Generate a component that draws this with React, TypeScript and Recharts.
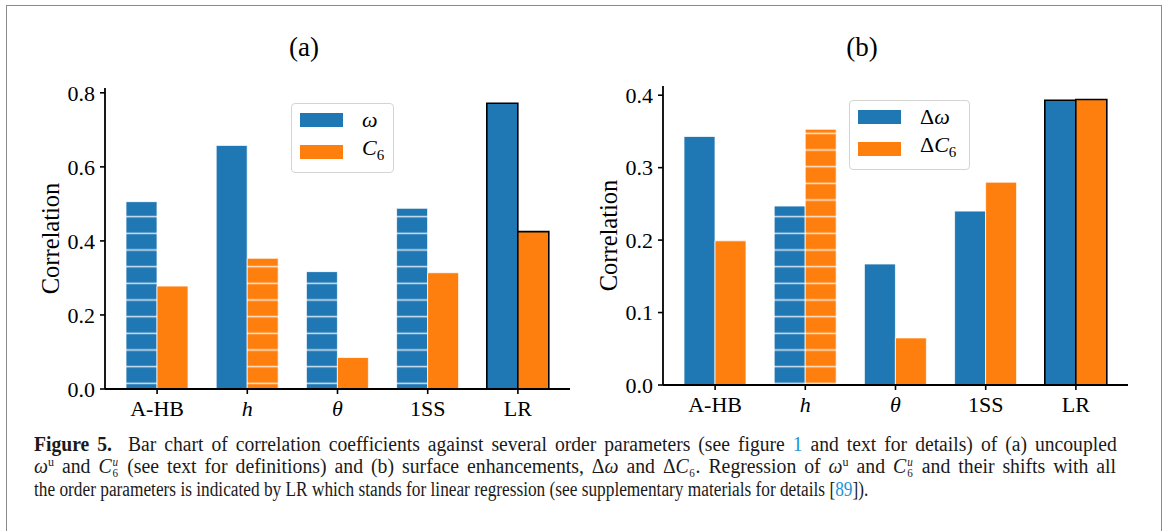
import React, { useLayoutEffect, useRef, useState } from 'react';
import { BarChart, Bar, XAxis, YAxis, Cell, Legend } from 'recharts';

// ---------- data ----------
const categories = ['A-HB', 'h', 'θ', '1SS', 'LR'];
const omegaA = [0.506, 0.658, 0.317, 0.488, 0.772];
const c6A = [0.278, 0.353, 0.085, 0.314, 0.425];
const dOmegaB = [0.343, 0.247, 0.167, 0.240, 0.393];
const dC6B = [0.199, 0.353, 0.065, 0.280, 0.394];
const ticksA = [0, 0.2, 0.4, 0.6, 0.8];
const ticksB = [0, 0.1, 0.2, 0.3, 0.4];
const titleA = '(a)';
const titleB = '(b)';
const yLabel = 'Correlation';

// ---------- styles ----------
const SERIF = '"Liberation Serif", "DejaVu Serif", serif';
const BLUE = '#1f77b4';
const ORANGE = '#ff7f0e';
const hatchedA = { s1: ['A-HB', 'θ', '1SS'], s2: ['h'] };
const hatchedB = { s1: ['h'], s2: ['h'] };
const outlined = ['LR'];

function HatchDefs() {
  const defs: [string, string][] = [
    ['hatchBlue', BLUE],
    ['hatchOrange', ORANGE],
  ];
  return (
    <svg width={0} height={0} style={{ position: 'absolute', left: 0, top: 0 }}>
      <defs>
        {defs.map(([id, c]) => (
          <pattern key={id} id={id} patternUnits="userSpaceOnUse" x={0} y={-8.3333} width={40} height={16.6667}>
            <rect x={0} y={0} width={40} height={16.6667} fill={c} />
            <line x1={0} x2={40} y1={8.3333} y2={8.3333} stroke="#ffffff" strokeOpacity={0.82} strokeWidth={1.3} />
          </pattern>
        ))}
      </defs>
    </svg>
  );
}

const XTick = (props: any) => {
  const { x, y, payload } = props;
  const v = payload.value;
  const italic = v === 'h' || v === 'θ';
  return (
    <text
      x={x}
      y={y}
      dy="0.71em"
      textAnchor="middle"
      fill="#000"
      fontFamily="Liberation Serif"
      fontSize={22}
      style={{ fontFamily: SERIF, fontSize: 22, fontStyle: italic ? 'italic' : 'normal' }}
    >
      {v}
    </text>
  );
};

const YTick = (props: any) => {
  const { x, y, payload } = props;
  return (
    <text
      x={x}
      y={y}
      dy="0.355em"
      textAnchor="end"
      fill="#000"
      fontFamily="Liberation Serif"
      fontSize={22}
      style={{ fontFamily: SERIF, fontSize: 22 }}
    >
      {Number(payload.value).toFixed(1)}
    </text>
  );
};

type Item = { color: string; label: React.ReactNode };

const LegendBox = ({ items, width }: { items: Item[]; width: number }) => (
  <div
    style={{
      width,
      boxSizing: 'border-box',
      border: '1px solid #d4d4d4',
      borderRadius: 4,
      background: 'rgba(255,255,255,0.85)',
      padding: '0px 0px 4px 8px',
      fontFamily: SERIF,
      fontSize: 22,
      color: '#000',
    }}
  >
    {items.map((it, i) => (
      <div key={i} style={{ display: 'flex', alignItems: 'center', height: 32 }}>
        <div style={{ width: 43, height: 14, background: it.color, marginRight: 19, flex: 'none' }} />
        <span style={{ lineHeight: '32px', whiteSpace: 'nowrap' }}>{it.label}</span>
      </div>
    ))}
  </div>
);

type PanelProps = {
  left: number;
  width: number;
  height: number;
  margin: { top: number; right: number; bottom: number; left: number };
  s1: number[];
  s2: number[];
  domainMax: number;
  ticks: number[];
  hatch: { s1: string[]; s2: string[] };
  items: Item[];
  legendPos: { left: number; top: number; width: number };
};

function Panel(p: PanelProps) {
  const data = categories.map((c, i) => ({ cat: c, s1: p.s1[i], s2: p.s2[i] }));
  const cellProps = (cat: string, hatched: string[], color: string, hatchId: string) => {
    if (outlined.includes(cat)) return { fill: color, stroke: '#000', strokeWidth: 1.6 };
    if (hatched.includes(cat)) return { fill: `url(#${hatchId})`, stroke: 'rgba(255,255,255,0.75)', strokeWidth: 1 };
    return { fill: color, stroke: 'rgba(255,255,255,0.75)', strokeWidth: 1 };
  };
  return (
    <div style={{ position: 'absolute', left: p.left, top: 0, width: p.width, height: p.height }}>
      <BarChart width={p.width} height={p.height} data={data} margin={p.margin} barGap={0}>
        <XAxis
          dataKey="cat"
          type="category"
          padding={{ left: 7, right: 7 }}
          height={30}
          tickSize={5}
          tickMargin={6}
          tick={<XTick />}
          tickLine={{ stroke: '#000', strokeWidth: 1.6 }}
          axisLine={{ stroke: '#000', strokeWidth: 1.8 }}
          interval={0}
        />
        <XAxis xAxisId="top" orientation="top" dataKey="cat" height={0} tick={false} tickLine={false} axisLine={{ stroke: '#000', strokeWidth: 1.8 }} />
        <YAxis
          type="number"
          domain={[0, p.domainMax]}
          ticks={p.ticks}
          width={60}
          tickSize={5}
          tickMargin={5}
          tick={<YTick />}
          tickLine={{ stroke: '#000', strokeWidth: 1.6 }}
          axisLine={{ stroke: '#000', strokeWidth: 1.8 }}
          allowDataOverflow
          label={{
            content: (lp: any) => {
              const vb = lp.viewBox || {};
              const cx = (vb.x ?? 0) + (vb.width ?? 60) - 55;
              const cy = (vb.y ?? 0) + (vb.height ?? 0) / 2;
              return (
                <text
                  x={cx}
                  y={cy}
                  textAnchor="middle"
                  dominantBaseline="central"
                  fill="#000"
                  style={{ fontFamily: SERIF, fontSize: 24.5 }}
                  transform={`rotate(-90 ${cx} ${cy})`}
                >
                  {yLabel}
                </text>
              );
            },
          }}
        />
        <YAxis yAxisId="right" orientation="right" width={0} domain={[0, p.domainMax]} tick={false} tickLine={false} axisLine={{ stroke: '#000', strokeWidth: 1.8 }} />
        <Legend
          layout="vertical"
          align="center"
          verticalAlign="middle"
          wrapperStyle={{ left: p.legendPos.left, top: p.legendPos.top, width: p.legendPos.width }}
          content={() => <LegendBox items={p.items} width={p.legendPos.width} />}
        />
        <Bar dataKey="s1" fill={BLUE} barSize={31} isAnimationActive={false}>
          {data.map((d, i) => (
            <Cell key={i} {...cellProps(d.cat, p.hatch.s1, BLUE, 'hatchBlue')} />
          ))}
        </Bar>
        <Bar dataKey="s2" fill={ORANGE} barSize={31} isAnimationActive={false}>
          {data.map((d, i) => (
            <Cell key={i} {...cellProps(d.cat, p.hatch.s2, ORANGE, 'hatchOrange')} />
          ))}
        </Bar>
      </BarChart>
    </div>
  );
}

const LINK = '#1b95d8';
const CAP_FONT: React.CSSProperties = {
  fontFamily: SERIF,
  fontSize: 20.5,
  lineHeight: '22.5px',
  color: '#1a1a1a',
};

const Sup = ({ children }: { children: React.ReactNode }) => (
  <span style={{ fontSize: 12.5, position: 'relative', top: -7, lineHeight: 0 }}>{children}</span>
);
const Sub = ({ children }: { children: React.ReactNode }) => (
  <span style={{ position: 'relative', display: 'inline-block', width: 7, height: 0 }}>
    <span style={{ position: 'absolute', display: 'block', left: 0.5, top: -4, fontSize: 11.5, lineHeight: '8px' }}>{children}</span>
  </span>
);
const SupSub = ({ sup, sub }: { sup: string; sub: string }) => (
  <span style={{ position: 'relative', display: 'inline-block', width: 8, height: 0 }}>
    <span style={{ position: 'absolute', display: 'block', left: 1, top: -15.5, fontSize: 11.5, lineHeight: '9px', fontStyle: 'italic' }}>{sup}</span>
    <span style={{ position: 'absolute', display: 'block', left: 1, top: -4, fontSize: 11.5, lineHeight: '8px' }}>{sub}</span>
  </span>
);

const LINE_TOPS = [432.8, 455.3, 478.3];
const LINE_WIDTHS = [1083, 1082, 834];

function Caption() {
  const refs = [useRef<HTMLSpanElement>(null), useRef<HTMLSpanElement>(null), useRef<HTMLSpanElement>(null)];
  const [fit, setFit] = useState<{ k: number; ws: number }[]>([
    { k: 1, ws: 0 },
    { k: 1, ws: 0 },
    { k: 1, ws: 0 },
  ]);
  useLayoutEffect(() => {
    const nat = refs.map((r) => (r.current ? r.current.offsetWidth : 0));
    const spaces = refs.map((r) => ((r.current?.textContent || '').match(/[ \u00a0]/g) || []).length);
    if (nat.some((w) => w <= 0)) return;
    const k3 = LINE_WIDTHS[2] / nat[2];
    const out = [0, 1].map((i) => {
      const kf = LINE_WIDTHS[i] / nat[i];
      const k = 0.35 * k3 + 0.65 * kf;
      const ws = (LINE_WIDTHS[i] / k - nat[i]) / Math.max(1, spaces[i]);
      return { k, ws };
    });
    setFit([out[0], out[1], { k: k3, ws: 0 }]);
  }, []);
  const lineStyle = (i: number): React.CSSProperties => ({
    position: 'absolute',
    left: 34,
    top: LINE_TOPS[i],
    whiteSpace: 'nowrap',
    transformOrigin: '0 0',
    transform: `scaleX(${fit[i].k})`,
    wordSpacing: fit[i].ws,
    ...CAP_FONT,
  });
  return (
    <>
      <div style={lineStyle(0)}>
        <span ref={refs[0]} style={{ display: 'inline-block' }}>
          <b>Figure 5.</b>
          {'\u00a0\u00a0Bar chart of correlation coefficients against several order parameters (see figure '}
          <span style={{ color: LINK }}>1</span>
          {' and text for details) of (a) uncoupled'}
        </span>
      </div>
      <div style={lineStyle(1)}>
        <span ref={refs[1]} style={{ display: 'inline-block' }}>
          <i>ω</i>
          <Sup>u</Sup>
          {' and '}
          <i>C</i>
          <SupSub sup="u" sub="6" />
          {' (see text for definitions) and (b) surface enhancements, Δ'}
          <i>ω</i>
          {' and Δ'}
          <i>C</i>
          <Sub>6</Sub>
          {'. Regression of '}
          <i>ω</i>
          <Sup>u</Sup>
          {' and '}
          <i>C</i>
          <SupSub sup="u" sub="6" />
          {' and their shifts with all'}
        </span>
      </div>
      <div style={lineStyle(2)}>
        <span ref={refs[2]} style={{ display: 'inline-block' }}>
          {'the order parameters is indicated by LR which stands for linear regression (see supplementary materials for details ['}
          <span style={{ color: LINK }}>89</span>
          {']).'}
        </span>
      </div>
    </>
  );
}

export default function App() {
  const itemsA: Item[] = [
    { color: BLUE, label: <i>ω</i> },
    { color: ORANGE, label: <span><i>C</i><sub style={{ fontSize: 15, fontStyle: 'normal' }}>6</sub></span> },
  ];
  const itemsB: Item[] = [
    { color: BLUE, label: <span>Δ<i>ω</i></span> },
    { color: ORANGE, label: <span>Δ<i>C</i><sub style={{ fontSize: 15 }}>6</sub></span> },
  ];
  return (
    <div style={{ position: 'absolute', left: 0, top: 0, width: 1168, height: 531, overflow: 'hidden', background: '#fff' }}>
      <HatchDefs />
      <div
        style={{
          position: 'absolute',
          left: 5.5,
          top: 5,
          width: 1154,
          height: 600,
          border: '1.6px solid #8a8a8a',
          borderBottom: 'none',
        }}
      />
      <Panel
        left={0}
        width={590}
        height={430}
        margin={{ top: 88, right: 20, bottom: 11, left: 45 }}
        s1={omegaA}
        s2={c6A}
        domainMax={0.813}
        ticks={ticksA}
        hatch={hatchedA}
        items={itemsA}
        legendPos={{ left: 291, top: 103, width: 103 }}
      />
      <Panel
        left={580}
        width={570}
        height={430}
        margin={{ top: 86, right: 22, bottom: 15, left: 23 }}
        s1={dOmegaB}
        s2={dC6B}
        domainMax={0.4127}
        ticks={ticksB}
        hatch={hatchedB}
        items={itemsB}
        legendPos={{ left: 269, top: 100, width: 121 }}
      />
      <div style={{ position: 'absolute', left: 254, top: 31, width: 100, textAlign: 'center', fontFamily: SERIF, fontSize: 27, lineHeight: '32px', color: '#000' }}>
        {titleA}
      </div>
      <div style={{ position: 'absolute', left: 812, top: 31, width: 100, textAlign: 'center', fontFamily: SERIF, fontSize: 27, lineHeight: '32px', color: '#000' }}>
        {titleB}
      </div>
      <Caption />
    </div>
  );
}
